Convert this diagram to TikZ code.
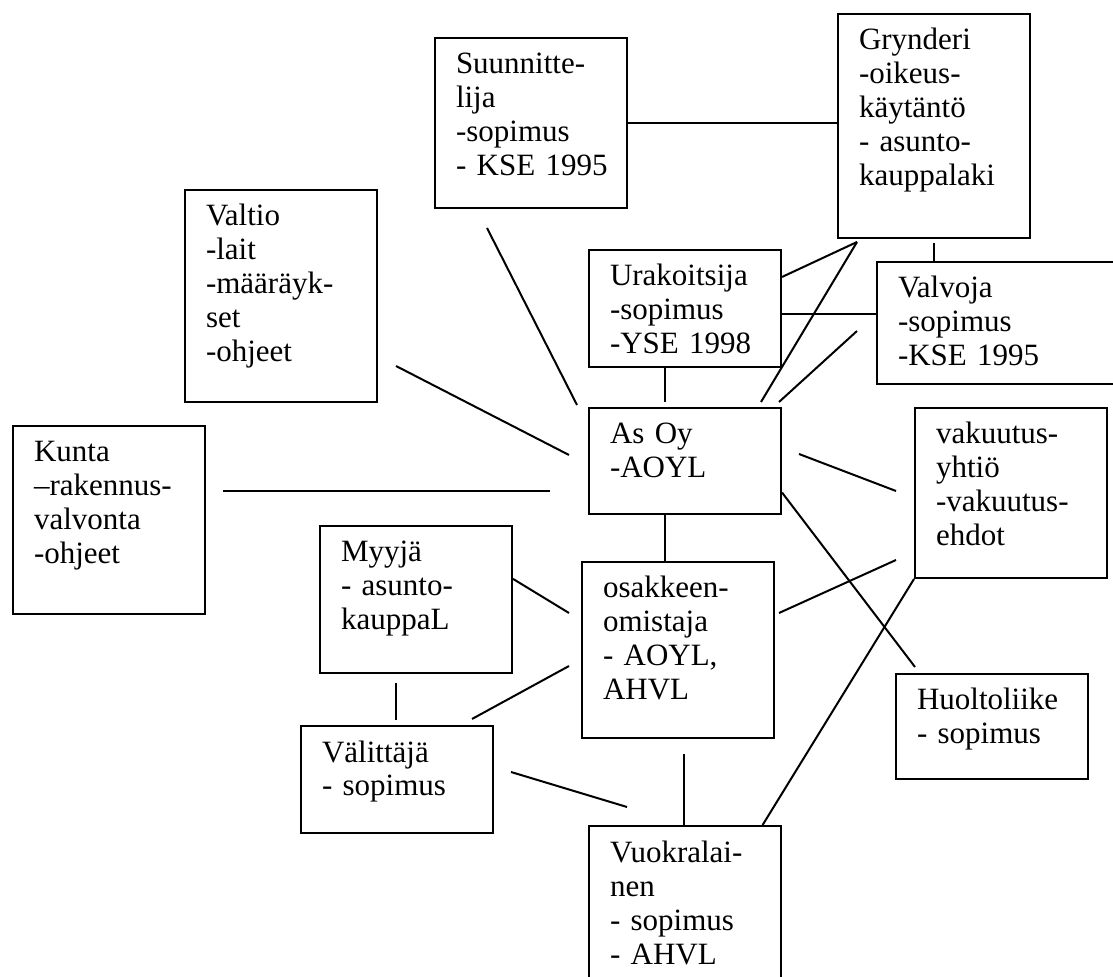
\documentclass[tikz,border=0pt]{standalone}
\usepackage{fontspec}
\setmainfont{Liberation Serif}
\usetikzlibrary{calc}
\exhyphenpenalty=10000
\hyphenpenalty=10000

\begin{document}
\begin{tikzpicture}[
		x=0.5pt, y=-0.5pt,
		font=\fontsize{15.5pt}{17pt}\selectfont,
		box/.style={rectangle, draw, line width=1pt, anchor=north west, align=left,
			text width=75pt, inner xsep=10.5pt, inner ysep=7pt, text height=11pt},
		line/.style={line width=1pt}
		]
		\useasboundingbox (0,0) rectangle (1113,977);
		
		% 1. Laatikot
		\node[box, text depth=60pt] (suun) at (434,37) {Suunnitte-\\lija\\-sopimus\\-~KSE~1995};
		\node[box, text depth=87pt] (gryn) at (837,13) {Grynderi\\-oikeus-\\käytäntö\\- asunto-\\kauppalaki};
		\node[box, text depth=81pt] (valtio) at (184,189) {Valtio\\-lait\\-määräyk-\\set\\-ohjeet};
		\node[box, text depth=33.5pt] (urak) at (588,249) {Urakoitsija\\-sopimus\\-YSE~1998};
		\node[box, text depth=36pt, text width=101pt] (valvoja) at (876,261) {Valvoja\\-sopimus\\-KSE 1995};
		\node[box, text depth=69pt] (kunta) at (12,425) {Kunta\\–rakennus-\\valvonta\\-ohjeet};
		\node[box, text depth=28pt] (asoy) at (588,407) {As Oy\\-AOYL};
		\node[box, text depth=60pt] (vakuutus) at (914,407) {vakuutus-\\yhtiö\\-vakuutus-\\ehdot};
		\node[box, text depth=48.5pt] (myyja) at (319,525) {Myyjä\\- asunto-\\kauppaL};
		\node[box, text depth=63pt] (osak) at (581,561) {osakkeen-\\omistaja\\- AOYL,\\AHVL};
		\node[box, text depth=27.5pt] (huolto) at (895,673) {Huoltoliike\\- sopimus};
		\node[box, text depth=28.5pt] (valit) at (300,725) {Välittäjä\\- sopimus};
		\node[box, text depth=57.5pt] (vuokr) at (588,825) {Vuokralai-\\nen\\- sopimus\\- AHVL};
		
		% 2. Vapaat päätepisteet
		\coordinate (suun-a) at (487,228);
		\coordinate (suun-b) at (577,405);
		\coordinate (valtio-a) at (396,366);
		\coordinate (valtio-b) at (569,455);
		\coordinate (kunta-a) at (223,491);
		\coordinate (kunta-b) at (550,491);
		\coordinate (gryn-a) at (857,242);
		\coordinate (gryn-b) at (934,243);
		\coordinate (urak-b) at (665,402);
		\coordinate (asoy-n1) at (761,402);
		\coordinate (asoy-n2) at (779,402);
		\coordinate (asoy-e) at (799,454);
		\coordinate (valvoja-a) at (857,331);
		\coordinate (vak-w1) at (896,491);
		\coordinate (vak-w2) at (896,560);
		\coordinate (huolto-a) at (915,667);
		\coordinate (osak-w1) at (569,613);
		\coordinate (osak-w2) at (569,666);
		\coordinate (osak-e) at (779,613);
		\coordinate (osak-a) at (684,754);
		\coordinate (myyja-a) at (396,683);
		\coordinate (valit-a) at (472,719);
		\coordinate (valit-b) at (396,720);
		\coordinate (valit-c) at (511,772);
		\coordinate (vuokr-a) at (627,807);
		
		% 3. Yhteydet ylhäällä
		\draw[line] (suun.east) -- (suun.east -| gryn.west);
		\draw[line] (suun-a) -- (suun-b);
		\draw[line] (valtio-a) -- (valtio-b);
		\draw[line] (kunta-a) -- (kunta-b);
		\draw[line] (urak.south -| urak-b) -- (urak-b);
		\draw[line] (urak.18) -- (gryn-a);
		\draw[line] (asoy-n1) -- (gryn-a);
		\draw[line] (urak.-3) -- (urak.-3 -| valvoja.west);
		\draw[line] (asoy-n2) -- (valvoja-a);
		\draw[line] (gryn-b) -- (gryn-b |- valvoja.north);
		
		% 4. Yhteydet alhaalla
		\draw[line] (asoy-e) -- (vak-w1);
		\draw[line] (asoy.-18) -- (huolto-a);
		\draw[line] (asoy.-110) -- (asoy.-110 |- osak.north);
		\draw[line] (myyja.12) -- (osak-w1);
		\draw[line] (valit-a) -- (osak-w2);
		\draw[line] (myyja-a) -- (valit-b);
		\draw[line] (valit-c) -- (vuokr-a);
		\draw[line] (osak-a) -- (osak-a |- vuokr.north);
		\draw[line] (osak-e) -- (vak-w2);
		\draw[line] (vakuutus.south west) -- ($(vuokr.north)!0.8!(vuokr.north east)$);
		
	\end{tikzpicture}
\end{document}
